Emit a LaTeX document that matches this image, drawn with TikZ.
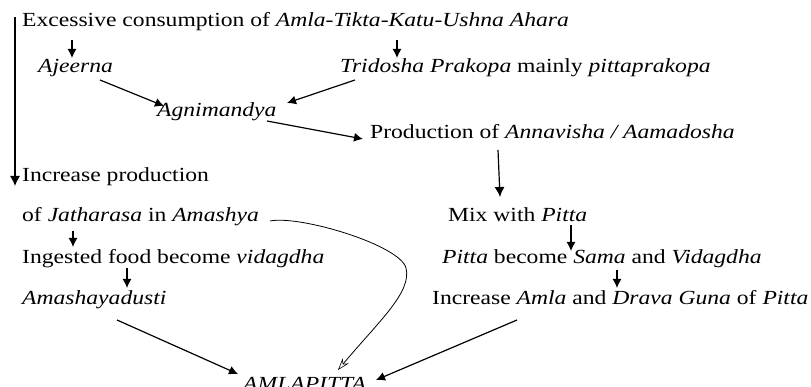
\documentclass[tikz,border=0pt]{standalone}
\usepackage{fontspec}
\setmainfont{Liberation Serif}
\usetikzlibrary{arrows.meta}
\newcommand{\wtxt}[1]{\scalebox{1.18}[1]{#1}}
\begin{document}
\begin{tikzpicture}[x=1pt,y=-1pt,
  lbl/.style={anchor=base west,inner sep=0pt,font=\fontsize{20}{24}\selectfont},
  arr/.style={-{Latex[length=9pt,width=9pt]},line width=1.2pt},
  longarr/.style={-{Latex[length=10pt,width=10pt]},line width=1.2pt},
  curvearr/.style={-{Stealth[length=12pt,width=8pt,open,line width=0.6pt]},line width=0.8pt}
]
\useasboundingbox (0,0) rectangle (811,387);

% texts
\node[lbl] (ex) at (22,27) {\wtxt{Excessive consumption of \textit{Amla-Tikta-Katu-Ushna Ahara}}};
\node[lbl] (aj) at (38,73) {\wtxt{\textit{Ajeerna}}};
\node[lbl] (tri) at (340,73) {\wtxt{\textit{Tridosha Prakopa} mainly \textit{pittaprakopa}}};
\node[lbl] (ag) at (157,117) {\wtxt{\textit{Agnimandya}}};
\node[lbl] (pro) at (370,139) {\wtxt{Production of \textit{Annavisha / Aamadosha}}};
\node[lbl] (inc) at (22,182) {\wtxt{Increase production}};
\node[lbl] (jat) at (22,222) {\wtxt{of \textit{Jatharasa} in \textit{Amashya}}};
\node[lbl] (ing) at (22,264) {\wtxt{Ingested food become \textit{vidagdha}}};
\node[lbl] (ama) at (22,305) {\wtxt{\textit{Amashayadusti}}};
\node[lbl] (mix) at (448,222) {\wtxt{Mix with \textit{Pitta}}};
\node[lbl] (pit) at (442,264) {\wtxt{\textit{Pitta} become \textit{Sama} and \textit{Vidagdha}}};
\node[lbl] (amla) at (432,305) {\wtxt{Increase \textit{Amla} and \textit{Drava Guna} of \textit{Pitta}}};
\node[lbl] (ap) at (243,390) {\wtxt{\textit{AMLAPITTA}}};

% connector end points
\coordinate (v0) at (15,17);
\coordinate (v1) at (15,186);
\coordinate (a1s) at (72,40);   \coordinate (a1e) at (72,58);
\coordinate (a2s) at (397,40);  \coordinate (a2e) at (397,58);
\coordinate (a3s) at (100,80);  \coordinate (a3e) at (164,106);
\coordinate (a4s) at (355,80);  \coordinate (a4e) at (287,103);
\coordinate (a5s) at (267,121); \coordinate (a5e) at (363,139);
\coordinate (a6s) at (498,150); \coordinate (a6e) at (500,197);
\coordinate (a7s) at (571,225); \coordinate (a7e) at (571,251);
\coordinate (a8s) at (617,270); \coordinate (a8e) at (617,288);
\coordinate (a9s) at (517,320); \coordinate (a9e) at (376,380);
\coordinate (b1s) at (73,231);  \coordinate (b1e) at (73,247);
\coordinate (b2s) at (127,268); \coordinate (b2e) at (127,288);
\coordinate (b3s) at (117,320); \coordinate (b3e) at (238,374);
\coordinate (c0) at (270,221);  \coordinate (c1) at (338,370);

\draw[longarr] (v0) -- (v1);
\draw[arr] (a1s) -- (a1e);
\draw[arr] (a2s) -- (a2e);
\draw[arr] (a3s) -- (a3e);
\draw[arr] (a4s) -- (a4e);
\draw[arr] (a5s) -- (a5e);
\draw[longarr] (a6s) -- (a6e);
\draw[arr] (a7s) -- (a7e);
\draw[arr] (a8s) -- (a8e);
\draw[arr] (a9s) -- (a9e);
\draw[arr] (b1s) -- (b1e);
\draw[arr] (b2s) -- (b2e);
\draw[arr] (b3s) -- (b3e);
\draw[curvearr] (c0) .. controls (300,215) and (400,245) .. (406,268)
  .. controls (412,292) and (380,320) .. (c1);
\end{tikzpicture}
\end{document}
